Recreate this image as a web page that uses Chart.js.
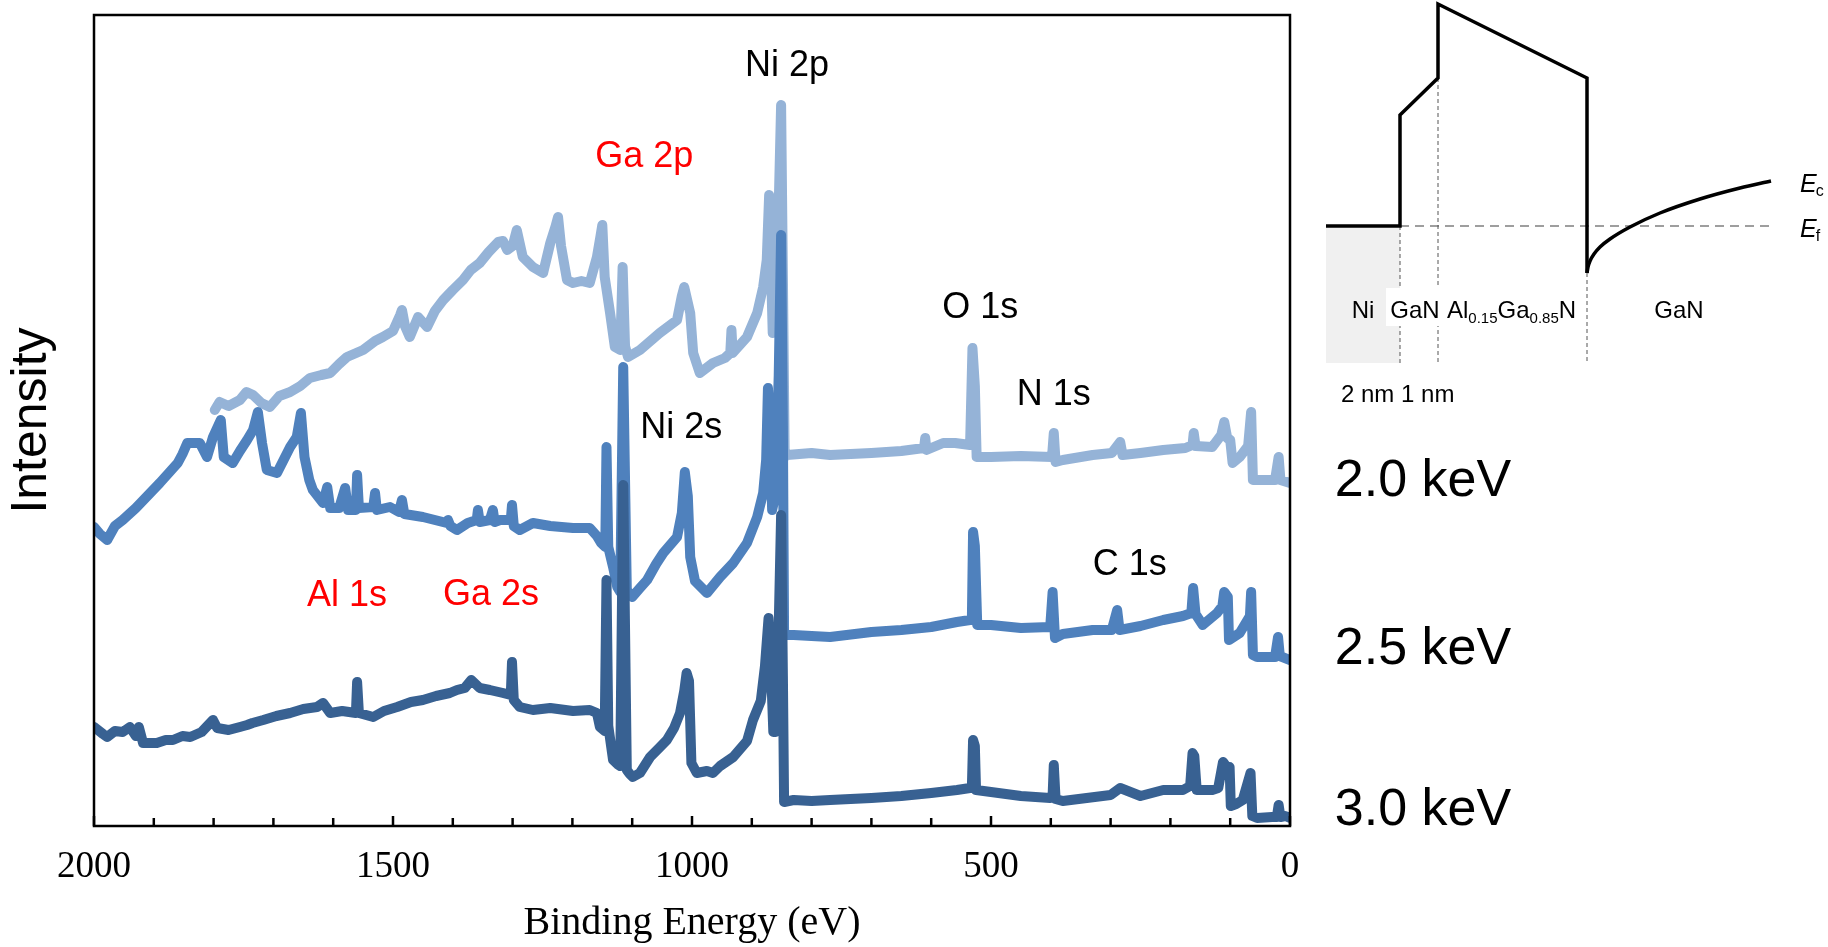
<!DOCTYPE html>
<html>
<head>
<meta charset="utf-8">
<title>XPS survey spectra</title>
<script src="https://cdn.jsdelivr.net/npm/chart.js@4.4.0/dist/chart.umd.min.js"></script>
<style>
  body { margin: 0; background: #fff; }
  #wrap { position: relative; width: 1828px; height: 947px; }
  #spectra { position: absolute; left: 0; top: 0; }
  #band { position: absolute; left: 1300px; top: 0; }
</style>
</head>
<body>
<div id="wrap">
  <canvas id="spectra" width="1828" height="947"></canvas>
  <canvas id="band" width="528" height="430"></canvas>
</div>
<script>
// Spectra: binding energy (eV) and intensity (arb. units, offset per series)
const energy30 = [2000,1985,1978,1965,1952,1940,1930,1925,1918,1895,
  1880,1868,1852,1839,1820,1801,1794,1775,1756,1744,
  1735,1717,1695,1672,1650,1627,1617,1605,1585,1562,
  1560,1557,1533,1515,1493,1470,1450,1428,1405,1393,
  1380,1369,1355,1338,1316,1303,1301,1298,1288,1266,
  1237,1199,1171,1159,1154,1146,1143,1140,1132,1125,
  1120,1115,1109,1104,1099,1087,1070,1055,1042,1030,
  1020,1013,1009,1005,1001,992,975,965,953,931,
  908,898,885,878,872,868,864,860,855,851,
  848,846,830,800,769,735,700,650,600,557,
  535,532,530,527,525,500,450,401,397,395,
  392,380,340,300,284,250,212,179,167,163,
  160,156,130,120,112,106,101,99,90,79,
  66,63,55,30,22,19,16,8,0];
const counts30 = [99,92,89,95,94,99,90,99,83,83,
  86,86,90,89,94,106,98,96,99,101,
  103,106,110,113,117,119,123,113,115,113,
  144,113,109,115,119,124,126,130,133,136,
  138,146,138,136,133,131,164,126,119,116,
  118,115,116,113,99,95,246,100,66,62,
  60,341,56,52,49,53,69,78,86,98,
  113,135,153,145,63,53,55,53,60,69,
  85,106,125,160,208,160,94,94,200,311,
  150,24,26,25,26,27,28,30,33,36,
  38,38,86,80,36,34,30,28,30,61,
  27,25,28,31,38,30,36,36,40,73,
  70,36,36,38,64,59,59,20,22,26,
  53,10,8,9,9,21,9,10,8];

const energy25 = [2000,1990,1978,1965,1952,1930,1906,1890,1878,1860,
  1852,1844,1823,1811,1801,1788,1783,1768,1756,1744,
  1734,1726,1719,1711,1694,1672,1661,1654,1648,1640,
  1634,1617,1610,1605,1590,1580,1575,1562,1560,1557,
  1533,1530,1527,1505,1490,1485,1481,1450,1430,1410,
  1408,1404,1393,1375,1360,1358,1355,1338,1333,1330,
  1321,1303,1301,1298,1288,1266,1237,1199,1171,1159,
  1152,1145,1143,1140,1132,1125,1120,1115,1109,1100,
  1087,1075,1060,1048,1025,1017,1012,1007,1003,995,
  975,953,931,908,891,881,876,873,870,866,
  861,855,851,848,846,830,800,769,700,650,
  600,557,535,532,530,527,523,500,450,401,
  397,393,380,330,298,289,285,250,212,179,
  165,162,158,146,122,113,110,104,102,84,
  67,65,62,55,25,20,17,0];
const counts25 = [299,292,286,300,306,318,333,343,351,363,
  372,383,383,369,389,406,369,363,375,386,
  396,414,383,356,353,379,389,413,369,346,
  336,323,339,318,318,338,316,316,351,318,
  319,333,316,319,314,326,312,309,306,303,
  306,300,296,303,306,316,304,306,316,304,
  306,306,321,300,296,303,300,298,298,290,
  283,279,379,279,259,239,234,459,236,229,
  238,246,262,273,289,313,354,330,269,245,
  233,249,263,283,309,333,366,438,400,316,
  330,450,591,400,191,191,190,189,194,196,
  199,204,206,206,294,280,201,201,198,199,
  234,188,192,196,196,216,196,200,206,210,
  213,238,212,201,213,220,234,229,186,193,
  210,234,171,169,169,189,170,166];

const energy20 = [1798,1790,1775,1756,1745,1734,1720,1706,1690,1672,
  1655,1639,1620,1605,1590,1577,1550,1530,1517,1500,
  1488,1485,1480,1472,1458,1443,1430,1416,1400,1383,
  1370,1355,1340,1324,1316,1309,1300,1293,1283,1266,
  1249,1237,1228,1224,1219,1209,1199,1185,1171,1159,
  1153,1150,1146,1137,1129,1120,1116,1112,1107,1087,
  1054,1025,1017,1013,1008,1003,998,987,965,945,
  936,934,932,908,891,881,875,871,868,865,
  860,855,851,848,845,841,800,769,700,650,
  612,610,608,580,560,535,531,527,524,500,
  450,398,395,392,380,330,298,284,280,250,
  212,175,163,161,158,130,115,110,105,100,
  96,84,70,65,62,55,25,19,16,0];
const counts20 = [416,424,420,426,434,431,423,419,430,434,
  440,448,451,453,462,469,476,485,489,495,
  511,516,500,489,509,499,515,526,536,546,
  556,563,574,584,585,576,580,596,569,559,
  553,583,600,609,580,546,543,545,543,569,
  590,601,549,513,479,476,559,480,469,476,
  493,506,530,539,526,513,473,453,463,468,
  473,496,473,489,513,539,566,631,560,493,
  500,620,721,550,369,371,373,371,373,375,
  378,388,376,383,383,381,478,440,369,369,
  370,369,393,364,366,371,373,384,371,373,
  376,378,381,393,380,379,391,404,388,386,
  363,369,380,414,346,346,346,369,346,343];

// Peak assignments (text, energy, height of the baseline, colour)
const peakText = ['Ni 2p', 'Ga 2p', 'O 1s', 'N 1s', 'Ni 2s', 'C 1s', 'Al 1s', 'Ga 2s'];
const peakEnergy = [841, 1080, 518, 395, 1018, 268, 1577, 1336];
const peakLevel = [750, 659, 508, 421, 388, 251, 220, 221];
const peakColor = ['#000', '#FF0000', '#000', '#000', '#000', '#000', '#FF0000', '#FF0000'];

// Excitation energies written to the right of each trace
const seriesNames = ['2.0 keV', '2.5 keV', '3.0 keV'];
const seriesNameLevel = [330, 162, 1];
const seriesNameEnergy = -75;

const energyTickLabels = [0, 500, 1000, 1500, 2000];

// Inset: conduction band profile Ni / GaN / AlGaN / GaN (position, energy in diagram units)
const bandX = [26, 100, 100, 138, 138, 287, 287];
const bandY = [204, 204, 315, 352, 426, 352, 157];
const bendX = [287, 288, 290, 294, 300, 310, 330, 360, 400, 440, 471];
const bendY = [157, 163, 169, 176, 183, 191, 203, 217, 231, 242, 249];
const fermiX = [100, 471];
const fermiY = [204, 204];
const interfaceX = [100, 138, 287];
const interfaceTop = [204, 352, 157];
const layerBottom = 67;
const metalX = [26, 100];
const layerText = ['Ni', 'GaN', 'GaN'];
const layerTextX = [63, 115, 379];
const layerTextLevel = 112;

function makeSeries(label, energy, counts, color, order) {
    return {
        label: label,
        order: order,
        data: energy.map((e, i) => ({ x: e, y: counts[i] })),
        borderColor: color,
        borderWidth: 10,
        borderJoinStyle: 'round',
        borderCapStyle: 'round',
        pointRadius: 0,
        tension: 0,
        fill: false
    };
}

function toPoints(xs, ys) {
    return xs.map((v, i) => ({ x: v, y: ys[i] }));
}

// Frame, inward ticks and text for the spectra
const spectraDecor = {
    id: 'spectraDecor',
    afterDraw(chart) {
        const { ctx, chartArea: a, scales: { x, y } } = chart;
        ctx.save();
        ctx.strokeStyle = '#000';
        ctx.lineWidth = 2.5;
        x.ticks.forEach(t => {
            const px = x.getPixelForValue(t.value);
            const len = t.value % 500 === 0 ? 10 : 8;
            ctx.beginPath();
            ctx.moveTo(px, a.bottom);
            ctx.lineTo(px, a.bottom - len);
            ctx.stroke();
        });
        ctx.strokeRect(a.left, a.top, a.right - a.left, a.bottom - a.top);

        ctx.textBaseline = 'alphabetic';
        ctx.textAlign = 'center';
        ctx.font = '36px "Liberation Sans", Arial, sans-serif';
        peakText.forEach((txt, i) => {
            ctx.fillStyle = peakColor[i];
            ctx.fillText(txt, x.getPixelForValue(peakEnergy[i]), y.getPixelForValue(peakLevel[i]));
        });

        ctx.textAlign = 'left';
        ctx.fillStyle = '#000';
        ctx.font = '52px "Liberation Sans", Arial, sans-serif';
        seriesNames.forEach((txt, i) => {
            ctx.fillText(txt, x.getPixelForValue(seriesNameEnergy), y.getPixelForValue(seriesNameLevel[i]));
        });
        ctx.restore();
    }
};

new Chart(document.getElementById('spectra'), {
    type: 'line',
    data: {
        datasets: [
            makeSeries('2.0 keV', energy20, counts20, '#95B3D7', 3),
            makeSeries('2.5 keV', energy25, counts25, '#4F81BD', 2),
            makeSeries('3.0 keV', energy30, counts30, '#386192', 1)
        ]
    },
    options: {
        responsive: false,
        animation: false,
        layout: { padding: { left: 0, right: 538, top: 15, bottom: 0 } },
        plugins: { legend: { display: false }, tooltip: { enabled: false } },
        scales: {
            x: {
                type: 'linear',
                reverse: true,
                min: 0,
                max: 2000,
                grid: { display: false, drawTicks: false },
                border: { display: false },
                ticks: {
                    stepSize: 100,
                    autoSkip: false,
                    maxRotation: 0,
                    padding: 19,
                    color: '#000',
                    font: { family: '"Liberation Serif", "Times New Roman", serif', size: 37, lineHeight: 1.2 },
                    callback: v => energyTickLabels.includes(v) ? String(v) : ''
                },
                title: {
                    display: true,
                    text: 'Binding Energy (eV)',
                    color: '#000',
                    font: { family: '"Liberation Serif", "Times New Roman", serif', size: 40, lineHeight: 1.2 },
                    padding: 0
                },
                afterFit: s => { s.height = 121; }
            },
            y: {
                min: 0,
                max: 811,
                grid: { display: false },
                border: { display: false },
                ticks: { display: false },
                title: {
                    display: true,
                    text: 'Intensity',
                    color: '#000',
                    font: { family: '"Liberation Sans", Arial, sans-serif', size: 50, lineHeight: 1.2 },
                    padding: { top: 2, bottom: 0 }
                },
                afterFit: s => { s.width = 94; }
            }
        }
    },
    plugins: [spectraDecor]
});

// Text of the band diagram inset
const bandLabels = {
    id: 'bandLabels',
    afterDatasetsDraw(chart) {
        const { ctx, scales: { x, y } } = chart;
        ctx.save();
        // white patch behind the GaN cap label
        const x0 = x.getPixelForValue(86), x1 = x.getPixelForValue(140);
        const y0 = y.getPixelForValue(142), y1 = y.getPixelForValue(104);
        ctx.fillStyle = '#fff';
        ctx.fillRect(x0, y0, x1 - x0, y1 - y0);

        ctx.fillStyle = '#000';
        ctx.textBaseline = 'alphabetic';
        ctx.textAlign = 'center';
        ctx.font = '24px "Liberation Sans", Arial, sans-serif';
        const base = y.getPixelForValue(layerTextLevel);
        layerText.forEach((txt, i) => ctx.fillText(txt, x.getPixelForValue(layerTextX[i]), base));

        // Al0.15Ga0.85N with subscripts
        ctx.textAlign = 'left';
        let px = x.getPixelForValue(147);
        [['Al', false], ['0.15', true], ['Ga', false], ['0.85', true], ['N', false]].forEach(([s, sub]) => {
            ctx.font = (sub ? '15px' : '24px') + ' "Liberation Sans", Arial, sans-serif';
            ctx.fillText(s, px, base + (sub ? 5 : 0));
            px += ctx.measureText(s).width;
        });

        ctx.font = '24px "Liberation Sans", Arial, sans-serif';
        ctx.fillText('2 nm 1 nm', x.getPixelForValue(41), y.getPixelForValue(28));

        // E_c and E_f
        [['c', 238], ['f', 193]].forEach(([sub, lvl]) => {
            const bx = x.getPixelForValue(500), by = y.getPixelForValue(lvl);
            ctx.font = 'italic 25px "Liberation Sans", Arial, sans-serif';
            ctx.fillText('E', bx, by);
            const w = ctx.measureText('E').width;
            ctx.font = '16px "Liberation Sans", Arial, sans-serif';
            ctx.fillText(sub, bx + w - 1, by + 4);
        });
        ctx.restore();
    }
};

new Chart(document.getElementById('band'), {
    type: 'scatter',
    data: {
        datasets: [
            { data: toPoints(metalX, [204, 204]), showLine: true, fill: { value: layerBottom },
              backgroundColor: '#F0F0F0', borderWidth: 0, pointRadius: 0, order: 6 },
            { data: toPoints(fermiX, fermiY), showLine: true, borderColor: '#7F7F7F', borderWidth: 1.5,
              borderDash: [9, 6], pointRadius: 0, order: 5 },
            ...interfaceX.map((ix, k) => ({
                data: toPoints([ix, ix], [interfaceTop[k], layerBottom]),
                showLine: true, borderColor: '#555', borderWidth: 1, borderDash: [4, 3], pointRadius: 0, order: 4
            })),
            { data: toPoints(bandX, bandY), showLine: true, borderColor: '#000', borderWidth: 3.5,
              borderJoinStyle: 'miter', pointRadius: 0, order: 1 },
            { data: toPoints(bendX, bendY), showLine: true, borderColor: '#000', borderWidth: 3.5,
              cubicInterpolationMode: 'monotone', pointRadius: 0, order: 1 }
        ]
    },
    options: {
        responsive: false,
        animation: false,
        clip: false,
        layout: { padding: 0 },
        plugins: { legend: { display: false }, tooltip: { enabled: false } },
        scales: {
            x: { type: 'linear', min: 0, max: 528, display: false },
            y: { type: 'linear', min: 0, max: 430, display: false }
        }
    },
    plugins: [bandLabels]
});
</script>
</body>
</html>
